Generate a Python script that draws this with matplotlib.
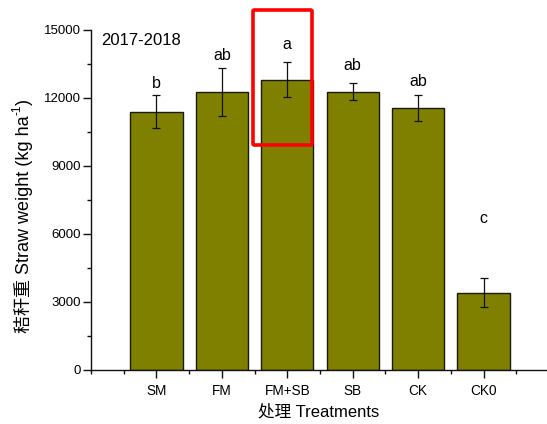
import matplotlib
matplotlib.use("Agg")
import matplotlib.pyplot as plt
from matplotlib.patches import FancyBboxPatch
from matplotlib.ticker import MultipleLocator, FixedLocator

# Straw weight by treatment, 2017-2018
treatments = ["SM", "FM", "FM+SB", "SB", "CK", "CK0"]
straw_weight = [11400, 12280, 12800, 12280, 11550, 3410]
std_error = [730, 1060, 770, 360, 570, 645]
sig_letters = ["b", "ab", "a", "ab", "ab", "c"]
letter_y = [12430, 13680, 14160, 13240, 12530, 6490]
y_ticks = [0, 3000, 6000, 9000, 12000, 15000]

LATIN_CJK = ["Liberation Sans", "Noto Sans CJK SC"]
plt.rcParams["font.family"] = LATIN_CJK

W, H, DPI = 547, 424, 100
fig = plt.figure(figsize=(W / DPI, H / DPI), dpi=DPI)
ax = fig.add_axes([91 / W, 1 - 370 / H, (549 - 91) / W, 340 / H])

x = list(range(1, len(treatments) + 1))
ax.bar(x, straw_weight, width=0.8, color="#808000", edgecolor="#1a1a00",
       linewidth=1.0, zorder=2)
ax.errorbar(x, straw_weight, yerr=std_error, fmt="none", ecolor="#111111",
            elinewidth=0.9, capsize=2.6, capthick=0.9, zorder=3)

for xi, lab, ly in zip(x, sig_letters, letter_y):
    ax.text(xi, ly, lab, ha="center", va="baseline", fontsize=11.5)

ax.set_xlim(0, 7)
ax.set_ylim(0, 15000)
ax.xaxis.set_major_locator(FixedLocator(x))
ax.set_xticklabels(treatments, fontsize=9.8)
ax.xaxis.set_minor_locator(FixedLocator([0] + [i + 0.5 for i in range(7)]))
ax.set_yticks(y_ticks)
ax.set_yticklabels([str(v) for v in y_ticks], fontsize=9.5)
ax.yaxis.set_minor_locator(MultipleLocator(1500))

ax.tick_params(axis="both", which="major", direction="out", length=5.5,
               width=1.0, color="#111111")
ax.tick_params(axis="both", which="minor", direction="out", length=3,
               width=1.0, color="#111111")
ax.tick_params(axis="x", which="major", pad=4.5)
ax.tick_params(axis="y", which="major", pad=2)

for side in ("top", "right"):
    ax.spines[side].set_visible(False)
for side in ("left", "bottom"):
    ax.spines[side].set_linewidth(1.0)
    ax.spines[side].set_color("#111111")

ax.text(0.15, 14340, "2017-2018", fontsize=12, ha="left", va="baseline")

fig.text(319 / W, 1 - 412 / H, "处理 Treatments", ha="center", va="center",
         fontsize=12, family=LATIN_CJK)

# y label built from pieces so the CJK fallback and the superscript both work
renderer = fig.canvas.get_renderer()
ylab_x = 24 / W
y_cur = 1 - 333 / H
pieces = [("秸秆重 Straw weight (kg ha", 13, 0.0),
          ("-1", 8.5, -6.5),
          (")", 13, 0.0)]
for txt, size, dx in pieces:
    t = fig.text(ylab_x + dx / W, y_cur, txt, rotation=90,
                 rotation_mode="anchor", ha="left", va="center",
                 fontsize=size, family=LATIN_CJK)
    bb = t.get_window_extent(renderer=renderer)
    y_cur += bb.height / H

# highlight box around FM+SB
rect = FancyBboxPatch((253 / W, 1 - 145 / H), (312 - 253) / W, (145 - 10) / H,
                      boxstyle="round,pad=0,rounding_size=0.003",
                      transform=fig.transFigure, fill=False,
                      edgecolor="#ff0000", linewidth=2.6, zorder=5)
fig.patches.append(rect)

fig.savefig("out.png", dpi=DPI)
